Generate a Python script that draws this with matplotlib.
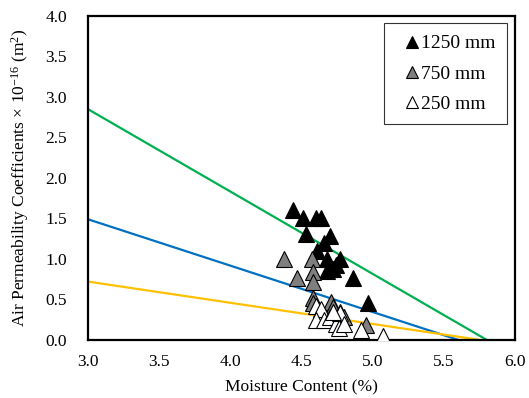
import matplotlib
matplotlib.use("Agg")
import matplotlib.pyplot as plt

plt.rcParams['font.family'] = ['Liberation Serif', 'DejaVu Serif']
plt.rcParams['mathtext.fontset'] = 'custom'
plt.rcParams['mathtext.rm'] = 'Liberation Serif'
plt.rcParams['mathtext.it'] = 'Liberation Serif:italic'

# 1250 mm
x1250 = [4.44, 4.51, 4.53, 4.60, 4.64, 4.61, 4.70, 4.66, 4.68, 4.72, 4.74, 4.77, 4.68, 4.86, 4.97]
y1250 = [1.60, 1.50, 1.31, 1.50, 1.50, 1.10, 1.28, 1.20, 1.00, 0.88, 0.92, 1.00, 0.85, 0.76, 0.45]
# 750 mm
x750 = [4.38, 4.47, 4.57, 4.58, 4.58, 4.58, 4.58, 4.71, 4.72, 4.77, 4.80, 4.95]
y750 = [1.00, 0.77, 1.00, 0.84, 0.72, 0.52, 0.45, 0.47, 0.40, 0.35, 0.28, 0.19]
# 250 mm
x250 = [4.60, 4.64, 4.60, 4.66, 4.70, 4.74, 4.77, 4.76, 4.80, 4.92, 5.07, 4.72]
y250 = [0.42, 0.38, 0.25, 0.25, 0.28, 0.20, 0.33, 0.15, 0.20, 0.12, 0.05, 0.35]

# trend lines (start, end)
green_x = [3.0, 5.80]; green_y = [2.85, 0.0]
blue_x = [3.0, 5.60]; blue_y = [1.49, 0.0]
yellow_x = [3.0, 5.75]; yellow_y = [0.72, 0.0]

labels = ['1250 mm', '750 mm', '250 mm']
xticks = [3.0, 3.5, 4.0, 4.5, 5.0, 5.5, 6.0]
yticks = [0.0, 0.5, 1.0, 1.5, 2.0, 2.5, 3.0, 3.5, 4.0]

fig = plt.figure(figsize=(5.29, 3.98), dpi=100)
ax = fig.add_axes([0.166, 0.146, 0.808, 0.814])

ax.plot(green_x, green_y, color='#00B050', lw=1.6, zorder=2)
ax.plot(blue_x, blue_y, color='#0070C0', lw=1.6, zorder=2)
ax.plot(yellow_x, yellow_y, color='#FFC000', lw=1.6, zorder=2)

ms = 11
ax.plot(x1250, y1250, '^', ms=ms, mfc='black', mec='black', mew=0.8, ls='none', label=labels[0], zorder=3)
ax.plot(x750, y750, '^', ms=ms, mfc='#7F7F7F', mec='black', mew=0.8, ls='none', label=labels[1], zorder=3)
ax.plot(x250, y250, '^', ms=ms, mfc='white', mec='black', mew=0.8, ls='none', label=labels[2], zorder=3)

ax.set_xlim(3.0, 6.0)
ax.set_ylim(0.0, 4.0)
ax.set_xticks(xticks)
ax.set_yticks(yticks)
ax.set_xticklabels([f'{v:.1f}' for v in xticks])
ax.set_yticklabels([f'{v:.1f}' for v in yticks])
ax.tick_params(labelsize=12.5, length=0)
ax.tick_params(axis='x', pad=10)
ax.tick_params(axis='y', pad=15)
for s in ax.spines.values():
    s.set_linewidth(1.6)

ax.set_xlabel('Moisture Content (%)', fontsize=12.5, labelpad=7)
ax.set_ylabel(r'Air Permeability Coefficients $\times$ 10$^{-16}$ (m$^{2}$)', fontsize=12.5, labelpad=10)

leg = ax.legend(loc='upper right', bbox_to_anchor=(0.981, 0.978), fontsize=14, frameon=True,
                fancybox=False, edgecolor='black', handlelength=1.7, handletextpad=-0.4,
                labelspacing=0.65, borderpad=0.6, borderaxespad=0, markerscale=0.8)
leg.get_frame().set_linewidth(0.8)

fig.savefig('out.png', dpi=100)
